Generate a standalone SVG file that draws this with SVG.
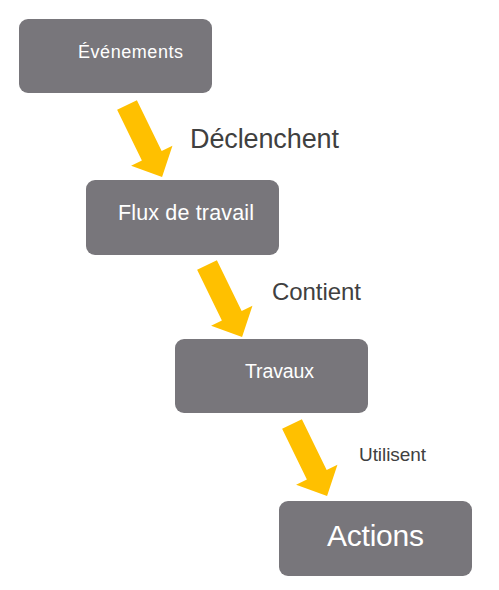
<svg xmlns="http://www.w3.org/2000/svg" width="499" height="590" viewBox="0 0 499 590">
<style>
.box{fill:#78767b}
.nt{fill:#ffffff;font-family:"Liberation Sans",Arial,sans-serif}
.lb{fill:#404040;font-family:"Liberation Sans",Arial,sans-serif}
.arr{fill:#ffc000}
</style>
<defs>
<path id="arrow" d="M0,-11 L56.5,-11 L56.5,-23 L80,0 L56.5,23 L56.5,11 L0,11 Z"/>
</defs>
<rect width="499" height="590" fill="#ffffff"/>
<g id="connectors">
<use href="#arrow" class="arr" transform="translate(127,105) rotate(64)"/>
<use href="#arrow" class="arr" transform="translate(207,265) rotate(64)"/>
<use href="#arrow" class="arr" transform="translate(292,424) rotate(64)"/>
<text class="lb" x="190" y="148" font-size="27" textLength="149">Déclenchent</text>
<text class="lb" x="272" y="300" font-size="24" textLength="89">Contient</text>
<text class="lb" x="359" y="461" font-size="19" textLength="67">Utilisent</text>
</g>
<g id="evenements">
<rect class="box" x="19" y="19" width="193" height="74" rx="9"/>
<text class="nt" x="78" y="58" font-size="18" textLength="105">Événements</text>
</g>
<g id="flux">
<rect class="box" x="86" y="180" width="193" height="75" rx="9"/>
<text class="nt" x="118" y="220" font-size="21.5" textLength="136">Flux de travail</text>
</g>
<g id="travaux">
<rect class="box" x="175" y="339" width="193" height="74" rx="9"/>
<text class="nt" x="245" y="378" font-size="19.5" textLength="69">Travaux</text>
</g>
<g id="actions">
<rect class="box" x="279" y="501" width="193" height="75" rx="9"/>
<text class="nt" x="327" y="546" font-size="30" font-family="'Open Sans',sans-serif" textLength="97">Actions</text>
</g>
</svg>
